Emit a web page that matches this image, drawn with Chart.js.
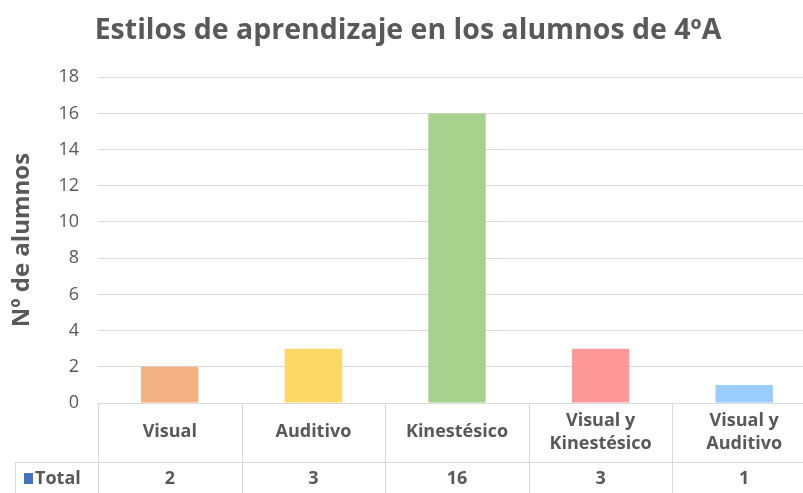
<!DOCTYPE html>
<html>
<head>
<meta charset="utf-8">
<script src="https://cdn.jsdelivr.net/npm/chart.js@4"></script>
<style>
html,body{margin:0;padding:0;overflow:hidden;background:#fff;}
#wrap{width:818px;height:500px;position:relative;}
</style>
</head>
<body>
<div id="wrap"><canvas id="c"></canvas></div>
<script>
const chartTitle = "Estilos de aprendizaje en los alumnos de 4ºA";
const yAxisTitle = "Nº de alumnos";
const categories = ["Visual", "Auditivo", "Kinestésico", "Visual y Kinestésico", "Visual y Auditivo"];
const categoryLines = [["Visual"], ["Auditivo"], ["Kinestésico"], ["Visual y", "Kinestésico"], ["Visual y", "Auditivo"]];
const seriesName = "Total";
const values = [2, 3, 16, 3, 1];
const barColors = ["#F4B183", "#FFD966", "#A9D18E", "#FF9999", "#99CCFF"];
const yMin = 0, yMax = 18, yStep = 2;

const labelFont = "'Open Sans', sans-serif";
const gridColor = "#d9d9d9";
const textColor = "#595959";

const tablePlugin = {
  id: 'dataTable',
  afterDraw(chart) {
    const ctx = chart.ctx;
    const xs = chart.scales.x;
    const ca = chart.chartArea;
    const n = categories.length;
    const colW = (xs.getPixelForValue(1) - xs.getPixelForValue(0));
    const row1Top = ca.bottom;
    const row1Bot = ca.bottom + 59;
    const row2Bot = row1Bot + 40;
    ctx.save();
    ctx.strokeStyle = gridColor;
    ctx.lineWidth = 1;
    ctx.beginPath();
    ctx.moveTo(15, Math.round(row1Bot) + 0.5);
    ctx.lineTo(chart.width, Math.round(row1Bot) + 0.5);
    ctx.moveTo(15.5, row1Bot);
    ctx.lineTo(15.5, row2Bot);
    for (let i = 0; i <= n; i++) {
      const bx = Math.round(xs.getPixelForValue(i) - colW / 2) + 0.5;
      ctx.moveTo(bx, row1Top);
      ctx.lineTo(bx, row2Bot);
    }
    ctx.stroke();
    ctx.fillStyle = textColor;
    ctx.textAlign = "center";
    ctx.textBaseline = "middle";
    ctx.font = "bold 18px " + labelFont;
    const midRow1 = row1Top + 29;
    const lh = 23;
    for (let i = 0; i < n; i++) {
      const cx = xs.getPixelForValue(i);
      const lines = categoryLines[i];
      const startY = midRow1 - (lines.length - 1) * lh / 2;
      lines.forEach((t, k) => ctx.fillText(t, cx, startY + k * lh));
    }
    const midRow2 = row1Bot + 17;
    for (let i = 0; i < n; i++) {
      ctx.fillText(String(values[i]), xs.getPixelForValue(i), midRow2);
    }
    ctx.fillStyle = "#4472C4";
    ctx.fillRect(24, midRow2 - 6, 9, 11);
    ctx.fillStyle = textColor;
    ctx.textAlign = "left";
    ctx.fillText(seriesName, 35, midRow2);
    ctx.restore();
  }
};

new Chart(document.getElementById('c'), {
  type: 'bar',
  data: {
    labels: categories,
    datasets: [{
      label: seriesName,
      data: values,
      backgroundColor: barColors,
      borderWidth: 0,
      categoryPercentage: 1.0,
      barPercentage: 0.4
    }]
  },
  options: {
    responsive: true,
    maintainAspectRatio: false,
    animation: false,
    layout: { padding: { left: 0, right: 2, top: 0, bottom: 97 } },
    plugins: {
      legend: { display: false },
      tooltip: { enabled: false },
      title: {
        display: true,
        text: chartTitle,
        color: textColor,
        font: { family: "'Open Sans', sans-serif", size: 28.5, weight: 'bold' },
        padding: { top: 14, bottom: 29 }
      }
    },
    scales: {
      x: {
        display: false,
        offset: true,
        grid: { display: false }
      },
      y: {
        min: yMin, max: yMax,
        afterFit(s) { s.width = 98; },
        border: { display: false },
        grid: { color: gridColor, drawTicks: false },
        ticks: {
          stepSize: yStep,
          padding: 19,
          color: textColor,
          font: { family: labelFont, size: 18 }
        },
        title: {
          display: true,
          text: yAxisTitle,
          color: textColor,
          font: { family: "'Open Sans', sans-serif", size: 24, weight: 'bold' },
          padding: { top: 8, bottom: 0 }
        }
      }
    }
  },
  plugins: [tablePlugin]
});
</script>
</body>
</html>
